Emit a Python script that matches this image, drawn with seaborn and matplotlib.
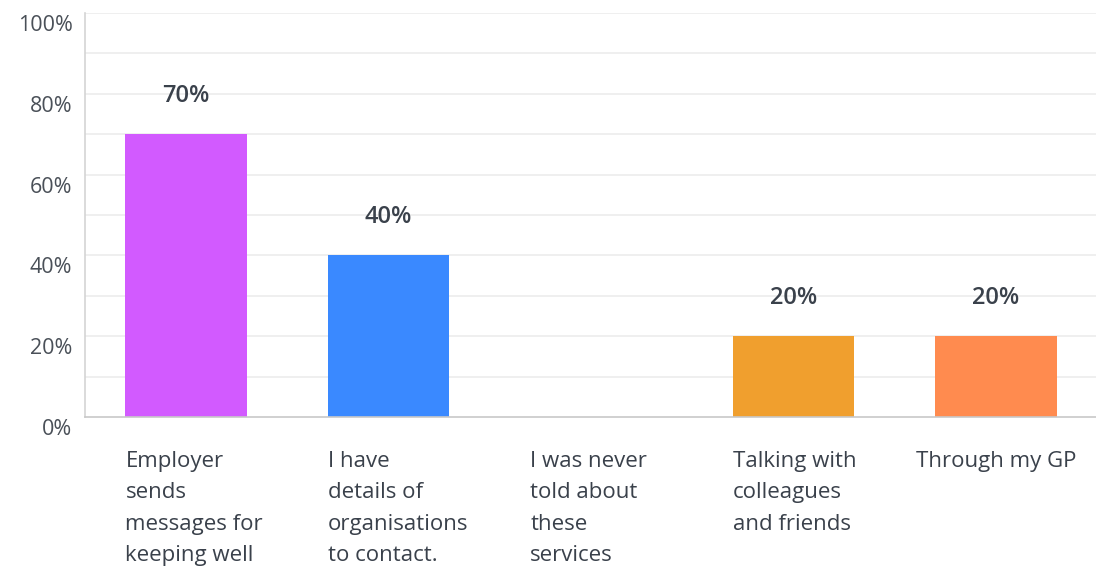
import matplotlib
matplotlib.use("Agg")
import matplotlib.pyplot as plt
import matplotlib.transforms as mtransforms
import seaborn as sns
import pandas as pd

# Survey answers and share of respondents (%)
categories = [
    "Employer\nsends\nmessages for\nkeeping well",
    "I have\ndetails of\norganisations\nto contact.",
    "I was never\ntold about\nthese\nservices",
    "Talking with\ncolleagues\nand friends",
    "Through my GP",
]
values = [70, 40, 0, 20, 20]
bar_colors = ["#D25AFF", "#3A89FF", "#9B9B9B", "#F09F2E", "#FF8B4F"]
y_ticks = [0, 20, 40, 60, 80, 100]
y_tick_labels = ["0%", "20%", "40%", "60%", "80%", "100%"]

sns.set_theme(style="white")
plt.rcParams["font.family"] = ["Open Sans", "DejaVu Sans"]

text_color = "#3a414b"

df = pd.DataFrame({"answer": categories, "share": values})

fig = plt.figure(figsize=(10.96, 5.67), dpi=100)
ax = fig.add_axes([85 / 1096, 150 / 567, 1012 / 1096, 404 / 567])

sns.barplot(
    data=df, x="answer", y="share", hue="answer",
    palette=bar_colors, legend=False, width=0.6, ax=ax,
    saturation=1, edgecolor="none",
)

ax.set_xlim(-0.5, len(categories) - 0.5)
ax.set_ylim(0, 100)

# light grid every 10%
for g in range(10, 101, 10):
    ax.axhline(g, color="#ececec", linewidth=1.2, zorder=0)
ax.set_axisbelow(True)

ax.set_yticks(y_ticks)
ax.set_yticklabels(y_tick_labels, fontsize=15.5, color="#4a5058")
ax.tick_params(axis="y", length=0, pad=9)
shift = mtransforms.ScaledTranslation(0, -10 / 100, fig.dpi_scale_trans)
for lbl in ax.get_yticklabels():
    lbl.set_transform(lbl.get_transform() + shift)

ax.set_xticks([])
ax.set_xlabel("")
ax.set_ylabel("")

for side in ["top", "right"]:
    ax.spines[side].set_visible(False)
ax.spines["left"].set_color("#d4d4d4")
ax.spines["bottom"].set_color("#c8c8c8")
ax.spines["left"].set_linewidth(1.2)
ax.spines["bottom"].set_linewidth(1.2)

# value labels above the bars (none for empty bars)
for cont in ax.containers:
    bars = [b for b in cont if b is not None]
    for b in bars:
        h = b.get_height()
        if h > 0:
            ax.annotate(f"{h:.0f}%", (b.get_x() + b.get_width() / 2, h),
                        xytext=(0, 19), textcoords="offset points",
                        ha="center", va="bottom", fontsize=17,
                        fontweight="semibold", color=text_color)

# category labels under the bars
blend = mtransforms.blended_transform_factory(ax.transData, ax.transAxes)
for i, name in enumerate(categories):
    if i == len(categories) - 1:
        x, ha = i + 0.0, "center"
    else:
        x, ha = i - 0.3, "left"
    ax.text(x, -0.083, name, transform=blend, ha=ha, va="top",
            multialignment="left", fontsize=16, color=text_color,
            linespacing=1.66)

fig.savefig("out.png", dpi=100, facecolor="white")
